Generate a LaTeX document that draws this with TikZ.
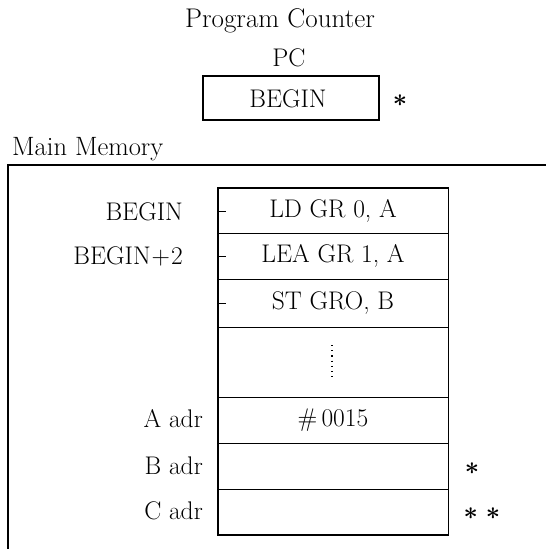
\documentclass[tikz,border=0pt]{standalone}
\begin{document}
\begin{tikzpicture}[x=1pt,y=-1pt,
  every node/.style={font=\fontsize{25.5}{30}\selectfont, inner sep=0pt},
  cell/.style={draw, line width=0.8pt, minimum width=230pt, anchor=north},
  tickline/.style={line width=0.8pt},
  lbl/.style={anchor=east},
  starmark/.style={anchor=center, font=\fontsize{38}{40}\selectfont\boldmath}]
\useasboundingbox (0,0) rectangle (546,549);

% program counter
\node[font=\fontsize{27}{30}\selectfont] (pctitle) at (280,21) {Program Counter};
\node (pcname) at (289,58) {PC};
\node[draw, line width=1.2pt, minimum width=176pt, minimum height=44pt] (pc) at (291,98) {};
\node (pcval) at (288,99) {BEGIN};
\node[starmark] (pcstar) at (400,101) {$\ast$};

% main memory frame, open to the right and below
\node[anchor=west, font=\fontsize{26.5}{30}\selectfont] (mmtitle) at (12,149) {Main Memory};
\coordinate (frameR) at (546,165);
\coordinate (frameTL) at (8,165);
\coordinate (frameB) at (8,549);
\draw[line width=1.4pt] (frameR) -- (frameTL) -- (frameB);

% memory words
\node[cell, minimum height=45pt] (ld)   at (333,188) {LD GR 0, A};
\node[cell, minimum height=46pt] (lea)  at (333,233) {LEA GR 1, A};
\node[cell, minimum height=48pt] (st)   at (333,279) {ST GRO, B};
\node[cell, minimum height=70pt] (dots) at (333,327) {};
\node[cell, minimum height=46pt] (a)    at (333,397) {\#\,0015};
\node[cell, minimum height=46pt] (b)    at (333,443) {};
\node[cell, minimum height=45pt] (c)    at (333,489) {};
\draw[line width=1.6pt] (ld.north west) rectangle (c.south east);

% vertical ellipsis
\draw[line width=1.2pt, dash pattern=on 1.2pt off 4pt] (332,345) -- (332,379);

% address ticks
\draw[tickline] (ld.west) -- ++(8,0);
\draw[tickline] (lea.west) -- ++(8,0);
\draw[tickline] (st.west) -- ++(8,0);

% address labels
\node[lbl] (lbegin) at (183,212) {BEGIN};
\node[lbl] (lbegin2) at (183,256) {BEGIN\kern1pt+\kern1pt2};
\node[lbl] (la) at (203,419) {A adr};
\node[lbl] (lb) at (203,466) {B adr};
\node[lbl] (lc) at (203,511) {C adr};

% markers
\node[starmark] (bstar) at (472,469) {$\ast$};
\node[starmark] (cstar) at (482,514) {$\ast\;\ast$};
\end{tikzpicture}
\end{document}
